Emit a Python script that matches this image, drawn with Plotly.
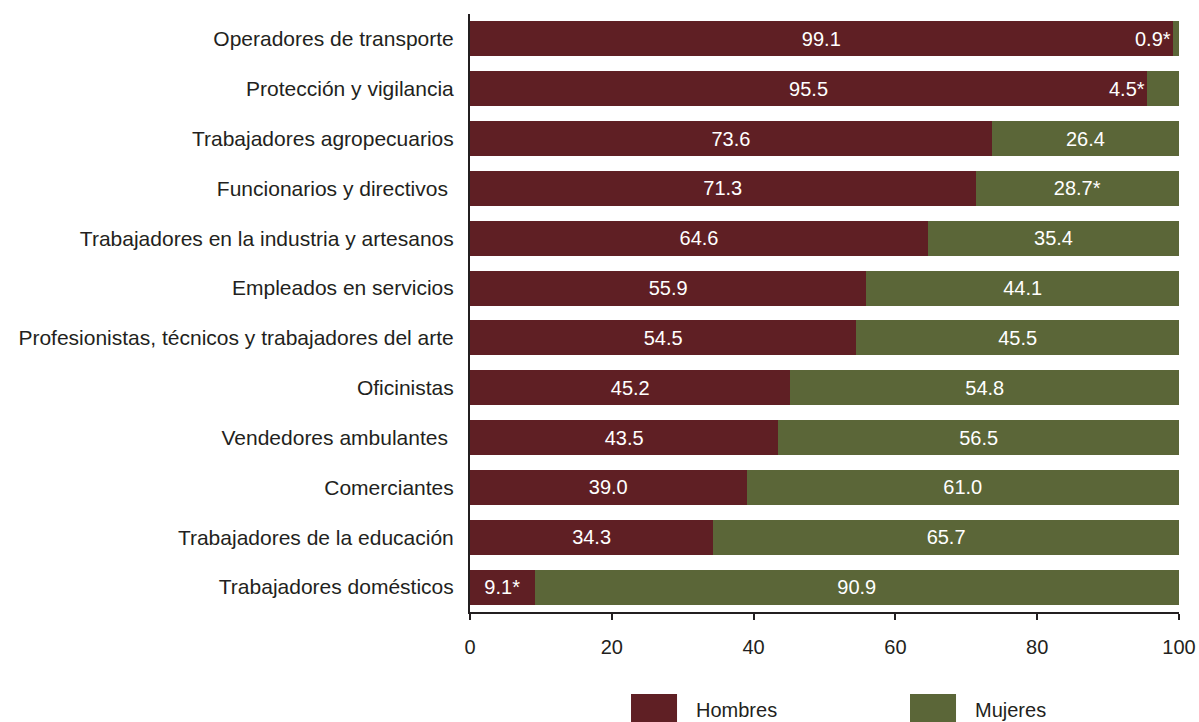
import plotly.graph_objects as go

categorias = [
    "Operadores de transporte",
    "Protección y vigilancia",
    "Trabajadores agropecuarios",
    "Funcionarios y directivos ",
    "Trabajadores en la industria y artesanos",
    "Empleados en servicios",
    "Profesionistas, técnicos y trabajadores del arte",
    "Oficinistas",
    "Vendedores ambulantes ",
    "Comerciantes",
    "Trabajadores de la educación",
    "Trabajadores domésticos",
]
hombres = [99.1, 95.5, 73.6, 71.3, 64.6, 55.9, 54.5, 45.2, 43.5, 39.0, 34.3, 9.1]
mujeres = [0.9, 4.5, 26.4, 28.7, 35.4, 44.1, 45.5, 54.8, 56.5, 61.0, 65.7, 90.9]
hombres_ast = [False] * 11 + [True]
mujeres_ast = [True, True, False, True] + [False] * 8
x_ticks = [0, 20, 40, 60, 80, 100]

C_H = "#5F1F24"
C_M = "#5B6638"
FONT = "Arial, Liberation Sans, sans-serif"
TXT = "#231F20"
FS = 20

def lab(v, a):
    return f"{v:.1f}" + ("*" if a else "")

h_text = [lab(v, a) for v, a in zip(hombres, hombres_ast)]
m_text = [lab(v, a) if v >= 10 else "" for v, a in zip(mujeres, mujeres_ast)]

fig = go.Figure()
fig.add_trace(go.Bar(
    y=categorias, x=hombres, orientation="h", name="Hombres",
    marker=dict(color=C_H, line=dict(width=0)),
    text=h_text, textposition="inside", insidetextanchor="middle",
    textfont=dict(color="white", size=FS, family=FONT),
    textangle=0, showlegend=False,
))
fig.add_trace(go.Bar(
    y=categorias, x=mujeres, orientation="h", name="Mujeres",
    marker=dict(color=C_M, line=dict(width=0)),
    text=m_text, textposition="inside", insidetextanchor="middle",
    textfont=dict(color="white", size=FS, family=FONT),
    textangle=0, showlegend=False,
))

annotations = []
for c, h, m, a in zip(categorias, hombres, mujeres, mujeres_ast):
    if m < 10:
        annotations.append(dict(
            x=h, y=c, xref="x", yref="y", text=lab(m, a), showarrow=False,
            xanchor="right", yanchor="middle", xshift=0,
            font=dict(color="white", size=FS, family=FONT),
        ))

# custom legend (large swatches as in the reference)
shapes = []
for x0, x1, col, name, tx in [(0.2271, 0.2920, C_H, "Hombres", 0.316),
                              (0.6206, 0.6855, C_M, "Mujeres", 0.7094)]:
    shapes.append(dict(type="rect", xref="paper", yref="paper",
                       x0=x0, x1=x1, y0=-0.137, y1=-0.19,
                       fillcolor=col, line=dict(width=0)))
    annotations.append(dict(x=tx, y=-0.164, xref="paper", yref="paper",
                            text=name, showarrow=False, xanchor="left",
                            yanchor="middle",
                            font=dict(color=TXT, size=FS, family=FONT)))

fig.update_layout(
    barmode="stack", bargap=0.3,
    width=1199, height=722,
    margin=dict(l=470, r=20, t=14, b=110, autoexpand=False),
    plot_bgcolor="white", paper_bgcolor="white",
    font=dict(family=FONT, size=FS, color=TXT),
    shapes=shapes, annotations=annotations,
    xaxis=dict(range=[0, 100], tickvals=x_ticks, showgrid=False, zeroline=False,
               showline=True, linecolor=TXT, linewidth=2,
               ticks="outside", ticklen=6, tickwidth=2, tickcolor=TXT,
               ticklabelstandoff=10, tickfont=dict(size=FS, color=TXT)),
    yaxis=dict(autorange="reversed", showgrid=False, zeroline=False,
               showline=True, linecolor=TXT, linewidth=2, ticks="",
               ticklabelstandoff=10, tickfont=dict(size=21, color=TXT)),
)

fig.write_html(
    "out.html",
    config={"displayModeBar": False},
    post_script="document.body.style.margin='0';document.body.style.overflow='hidden';",
)
